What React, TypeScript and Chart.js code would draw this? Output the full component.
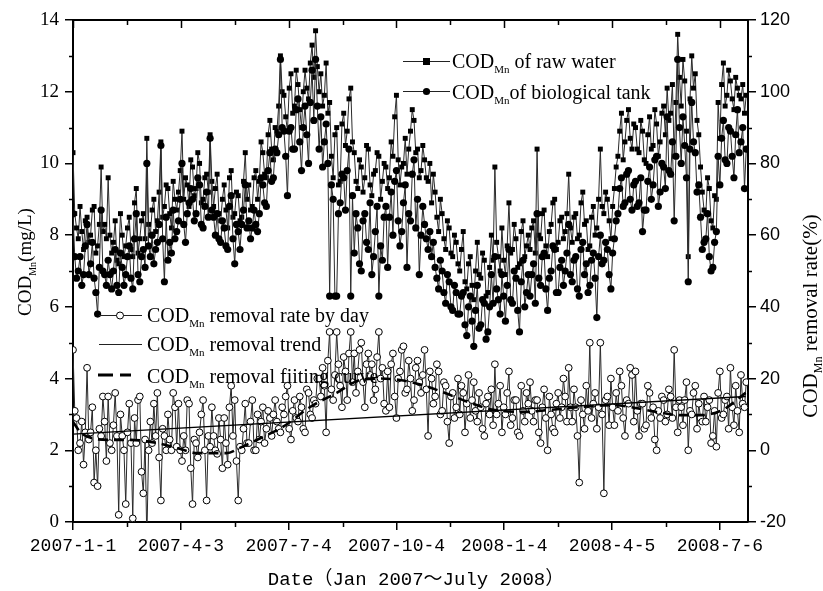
import React, { useEffect, useRef } from "react";
import { Chart, registerables } from "chart.js";

Chart.register(...registerables);

// sampling interval of the record, in days (x = day since 2007-1-1)
const DAY_STEP = 1.5;

const RAW_WATER = [
  10.3, 8.6, 8.2, 7.9, 8.8, 8.1, 7.6, 8.4, 8.5, 7.8, 8.0, 8.7, 8.8, 7.5, 7.7, 8.3, 9.9, 8.1, 8.3, 7.9,
  9.6, 8.0, 7.5, 7.8, 8.4, 7.3, 7.2, 8.6, 8.0, 7.4, 7.7, 8.2, 8.5, 7.6, 7.4, 8.9, 9.3, 7.5, 7.9, 8.4,
  8.6, 7.9, 10.7, 8.3, 8.0, 8.7, 9.0, 8.1, 8.4, 9.2, 10.6, 8.5, 8.8, 9.4, 9.3, 8.6, 8.2, 9.5, 9.0, 8.7,
  9.2, 9.8, 10.9, 9.0, 9.6, 9.4, 8.8, 10.1, 9.9, 9.1, 9.3, 10.3, 10.0, 8.9, 9.0, 9.6, 9.7, 9.2, 10.8, 9.5,
  8.8, 9.3, 9.7, 8.6, 8.4, 9.0, 9.4, 8.7, 8.2, 9.6, 9.8, 8.5, 8.6, 9.2, 9.1, 8.4, 8.5, 9.5, 10.3, 9.0,
  9.4, 8.7, 8.8, 9.6, 9.8, 9.0, 9.5, 10.6, 10.3, 9.7, 9.6, 10.8, 11.2, 10.4, 10.1, 11.0, 10.9, 11.6, 13.0, 12.0,
  11.9, 11.3, 10.9, 12.1, 12.5, 11.4, 11.6, 12.6, 12.2, 11.5, 11.0, 12.0, 12.6, 12.1, 11.8, 12.8, 13.3, 12.4, 13.7, 12.7,
  12.0, 12.5, 11.6, 11.9, 12.8, 11.4, 11.7, 10.2, 9.6, 10.8, 11.0, 9.4, 9.5, 11.1, 11.4, 10.5, 10.9, 11.8, 12.1, 10.6,
  10.3, 9.5, 9.3, 10.1, 9.9, 9.2, 9.6, 10.5, 10.4, 9.4, 9.1, 9.7, 9.8, 10.3, 10.2, 9.0, 9.5, 10.0, 9.9, 9.3,
  9.6, 10.6, 10.2, 11.3, 11.9, 10.1, 9.4, 9.9, 10.0, 10.7, 9.7, 10.4, 10.9, 11.5, 11.2, 10.3, 10.4, 9.6, 9.8, 10.5,
  10.1, 9.6, 9.5, 10.0, 8.9, 9.7, 9.2, 8.5, 8.1, 9.0, 8.6, 7.9, 7.6, 8.4, 8.2, 7.5, 7.4, 8.0, 7.8, 7.2,
  7.0, 7.6, 8.1, 6.7, 6.5, 7.2, 7.4, 6.6, 6.2, 7.0, 7.8, 6.9, 6.8, 7.5, 7.3, 6.3, 6.4, 7.1, 8.0, 7.3,
  9.9, 7.8, 7.4, 7.0, 8.2, 7.3, 6.9, 7.7, 8.9, 7.5, 7.6, 8.3, 7.9, 7.1, 7.2, 8.1, 8.4, 7.4, 7.7, 8.0,
  7.6, 8.2, 8.4, 7.5, 10.4, 8.0, 7.9, 8.6, 8.7, 7.7, 7.4, 8.1, 8.3, 8.9, 9.0, 7.6, 7.8, 8.4, 8.5, 7.9,
  8.1, 8.6, 9.7, 8.2, 7.8, 8.5, 8.6, 7.9, 8.0, 8.9, 9.2, 8.3, 8.4, 7.6, 7.7, 8.5, 8.8, 8.0, 8.2, 9.0,
  10.4, 8.8, 8.6, 9.2, 9.0, 8.4, 7.9, 8.8, 9.3, 9.9, 10.2, 10.9, 11.4, 10.1, 10.6, 11.2, 11.5, 10.7, 10.4, 11.1,
  11.0, 10.4, 10.3, 11.2, 10.9, 10.1, 10.0, 10.8, 11.3, 10.4, 10.5, 11.5, 11.1, 10.2, 10.6, 11.4, 11.6, 10.8, 12.1, 11.2,
  11.4, 12.2, 10.2, 11.7, 13.6, 12.4, 11.6, 12.9, 12.3, 10.9, 7.4, 11.8, 13.0, 12.1, 12.5, 11.2, 10.8, 9.9, 9.2, 8.7,
  8.6, 9.6, 9.3, 8.4, 8.2, 9.1, 9.0, 11.7, 10.7, 12.2, 12.8, 11.6, 11.9, 12.6, 12.3, 11.8, 11.5, 12.4, 12.1, 11.9,
  11.8, 12.2, 11.4, 11.9,
];

const BIO_TANK = [
  8.6, 7.4, 6.8, 7.0, 7.4, 6.6, 6.9, 7.7, 8.3, 6.9, 7.2, 7.8, 6.8, 6.4, 5.8, 7.1, 8.7, 7.0, 6.9, 6.6,
  7.3, 6.9, 6.5, 7.0, 7.6, 6.6, 6.4, 7.5, 7.1, 6.6, 6.9, 7.4, 7.7, 6.8, 6.5, 7.9, 8.6, 6.9, 6.7, 7.4,
  7.6, 7.1, 10.0, 7.7, 7.4, 8.0, 7.2, 7.6, 7.8, 8.3, 10.5, 7.9, 6.7, 8.5, 7.3, 7.8, 7.5, 8.7, 7.9, 8.1,
  8.4, 9.0, 10.0, 8.3, 7.8, 8.6, 8.9, 9.3, 9.0, 8.4, 8.6, 9.6, 9.4, 8.3, 8.2, 8.8, 9.2, 8.5, 10.7, 8.7,
  8.5, 8.0, 8.6, 7.9, 7.8, 8.4, 8.2, 7.7, 7.6, 8.8, 9.1, 7.9, 7.2, 8.3, 8.1, 7.6, 8.3, 8.7, 9.4, 8.2,
  8.4, 7.9, 8.2, 8.7, 8.3, 8.1, 8.6, 9.6, 9.4, 8.9, 8.8, 9.8, 10.3, 9.5, 9.6, 10.4, 10.3, 10.8, 12.9, 11.0,
  10.9, 10.2, 9.1, 10.9, 11.0, 10.4, 10.4, 11.5, 11.8, 10.6, 9.8, 11.0, 11.6, 10.8, 10.0, 11.7, 12.6, 11.2, 12.9, 11.6,
  10.4, 11.3, 9.9, 10.6, 11.1, 10.0, 6.3, 9.4, 9.0, 6.3, 6.3, 8.6, 8.9, 9.7, 9.6, 8.7, 9.8, 10.4, 6.3, 9.1,
  7.5, 8.6, 8.2, 7.2, 7.0, 8.4, 8.6, 7.8, 7.6, 8.9, 6.9, 7.4, 8.1, 8.8, 6.3, 7.7, 7.3, 8.5, 8.8, 7.1,
  8.5, 9.2, 8.0, 9.5, 9.8, 8.4, 7.7, 8.1, 8.9, 9.4, 7.1, 8.6, 8.4, 9.7, 10.1, 8.2, 9.0, 6.9, 8.0, 8.8,
  8.3, 7.9, 7.6, 8.1, 7.4, 7.8, 7.1, 6.8, 6.5, 7.3, 7.0, 6.4, 6.1, 6.9, 6.7, 6.0, 5.9, 6.6, 6.4, 5.8,
  5.8, 6.3, 6.4, 5.5, 5.2, 6.0, 6.3, 5.6, 4.9, 5.9, 6.6, 5.4, 5.5, 6.2, 6.1, 5.1, 5.3, 6.0, 6.9, 6.1,
  7.4, 6.5, 6.2, 5.8, 6.9, 6.3, 5.6, 6.6, 7.6, 6.2, 6.1, 7.0, 6.8, 5.9, 5.3, 6.7, 7.3, 6.0, 6.4, 6.9,
  6.3, 6.9, 7.2, 6.1, 8.6, 6.8, 6.6, 7.4, 7.5, 6.5, 5.9, 6.8, 7.0, 7.7, 7.6, 6.4, 6.4, 7.1, 7.3, 6.6,
  7.0, 7.5, 8.3, 6.9, 6.7, 7.3, 7.4, 6.5, 6.3, 7.6, 7.8, 6.9, 7.2, 6.4, 6.6, 7.3, 7.5, 6.8, 5.7, 7.4,
  8.0, 7.2, 7.3, 7.8, 7.6, 6.9, 6.5, 7.5, 7.9, 8.4, 8.6, 9.3, 9.6, 8.8, 8.9, 9.7, 9.8, 9.0, 8.7, 9.4,
  9.5, 8.8, 8.9, 9.6, 8.1, 8.7, 8.7, 9.5, 9.9, 9.0, 9.4, 10.1, 10.2, 8.8, 9.2, 10.0, 9.9, 9.3, 11.3, 9.8,
  9.7, 10.6, 8.4, 10.2, 12.9, 11.0, 10.0, 11.3, 10.5, 9.6, 6.7, 10.4, 11.7, 10.6, 10.3, 9.2, 9.4, 8.5, 7.6, 7.8,
  7.9, 8.6, 7.4, 7.0, 7.1, 7.8, 8.1, 10.2, 9.4, 10.7, 11.2, 10.1, 10.0, 11.0, 10.9, 10.2, 9.6, 10.8, 11.5, 10.3,
  10.6, 11.0, 9.3, 10.4,
];

const REMOVAL_RATE = [
  28, 11, 9, 0, 2, 8, -4, 5, 23, 3, 5, 12, -9, 0, -10, 6, 4, 15, 8, -3,
  15, 2, 0, 7, 16, 4, -18, 10, 4, 0, -15, 5, 13, 2, -19, 9, 2, 14, 15, -6,
  -12, 3, -25, 0, 8, 2, 13, 4, 16, -2, -14, 6, 4, 0, 10, 3, 0, 16, 12, 1,
  13, 0, -3, 4, 0, 14, 13, -5, -15, 3, 2, -2, 5, 10, 14, 0, -14, 4, 1, 12,
  4, 0, -1, 9, 3, -5, 9, 2, -4, 12, 18, 4, 14, -3, -14, 1, 0, 6, 13, 2,
  2, 8, 14, 0, 0, 10, 3, 8, 12, 2, 6, 11, 9, 4, 10, 14, 8, 6, 5, 12,
  10, 15, 18, 6, 3, 11, 14, 9, 8, 15, 12, 6, 5, 17, 16, 10, 9, 14, 13, 20,
  20, 15, 23, 18, 5, 25, 33, 17, 14, 21, 33, 24, 18, 12, 26, 22, 14, 27, 33, 19,
  27, 16, 22, 28, 30, 19, 12, 24, 27, 21, 24, 14, 17, 26, 33, 20, 23, 13, 11, 22,
  12, 24, 27, 15, 9, 20, 22, 28, 29, 16, 17, 25, 20, 11, 14, 23, 25, 19, 16, 21,
  28, 17, 4, 22, 20, 13, 15, 24, 22, 10, 11, 19, 18, 8, 2, 15, 16, 9, 12, 20,
  10, 18, 16, 5, 13, 21, 9, 14, 19, 11, 8, 16, 12, 6, 4, 13, 15, 10, 17, 7,
  24, 10, 13, 18, 5, 12, 10, 16, 22, 7, 9, 14, 14, 5, 4, 18, 11, 8, 16, 13,
  19, 11, 8, 14, 14, 5, 2, 12, 17, 9, 0, 15, 10, 6, 5, 13, 16, 9, 12, 20,
  15, 8, 23, 12, 8, 17, 12, 4, -9, 14, 10, 6, 18, 11, 30, 9, 13, 16, 6, 12,
  30, 10, -12, 14, 15, 7, 20, 12, 7, 16, 11, 22, 18, 9, 4, 14, 13, 23, 21, 8,
  22, 11, 4, 13, 13, 6, 7, 18, 16, 9, 12, 3, 0, 11, 9, 15, 14, 8, 10, 17,
  15, 9, 28, 12, 5, 14, 12, 7, 14, 19, 0, 11, 10, 16, 18, 6, 13, 9, 8, 15,
  8, 12, 14, 2, 4, 11, 1, 16, 22, 9, 10, 14, 15, 6, 23, 12, 7, 18, 11, 5,
  21, 13, 12, 19,
];

const TREND_DAYS = [0, 574];
const TREND_RATE = [4.5, 15.0];

const FIT_DAYS = [0, 8, 32, 49, 72, 91, 106, 131, 142, 162, 179, 202, 225, 245, 262, 279, 298, 315, 337, 360, 387, 405, 424, 461, 480, 498, 518, 535, 554, 574];
const FIT_RATE = [7.9, 4.5, 2.9, 2.9, 2.0, 0.4, -0.8, -0.8, 0.6, 3.7, 6.5, 12.0, 16.0, 19.6, 20.0, 19.6, 18.2, 16.3, 13.5, 11.2, 10.7, 11.2, 11.8, 12.6, 11.8, 10.7, 9.8, 9.8, 11.2, 16.0];

const X_TICK_DAYS = [0, 92, 184, 276, 368, 460, 552];
const X_TICK_LABELS = ["2007-1-1", "2007-4-3", "2007-7-4", "2007-10-4", "2008-1-4", "2008-4-5", "2008-7-6"];
const X_MINOR_DAYS = [46, 138, 230, 322, 414, 506];
const LEFT_TICKS = [0, 2, 4, 6, 8, 10, 12, 14];
const LEFT_MINOR = [1, 3, 5, 7, 9, 11, 13];
const RIGHT_TICKS = [-20, 0, 20, 40, 60, 80, 100, 120];
const RIGHT_MINOR = [-10, 10, 30, 50, 70, 90, 110];

const SERIF = '"Liberation Serif", "Times New Roman", serif';

function richWidth(ctx: CanvasRenderingContext2D, pre: string, sub: string, post: string, size: number) {
  ctx.font = `${size}px ${SERIF}`;
  let w = ctx.measureText(pre).width + ctx.measureText(post).width;
  ctx.font = `${Math.round(size * 0.55)}px ${SERIF}`;
  w += ctx.measureText(sub).width;
  return w;
}

function drawRich(ctx: CanvasRenderingContext2D, x: number, y: number, pre: string, sub: string, post: string, size: number) {
  ctx.textBaseline = "alphabetic";
  ctx.textAlign = "left";
  ctx.fillStyle = "#000";
  ctx.font = `${size}px ${SERIF}`;
  ctx.fillText(pre, x, y);
  let w = ctx.measureText(pre).width;
  ctx.font = `${Math.round(size * 0.55)}px ${SERIF}`;
  ctx.fillText(sub, x + w, y + size * 0.25);
  w += ctx.measureText(sub).width;
  ctx.font = `${size}px ${SERIF}`;
  ctx.fillText(post, x + w, y);
}

const decorPlugin = {
  id: "decor",
  afterDraw(chart: any) {
    const ctx: CanvasRenderingContext2D = chart.ctx;
    const { left, right, top, bottom } = chart.chartArea;
    const xs = chart.scales.x;
    const yl = chart.scales.y;
    const yr = chart.scales.y1;
    const r = (v: number) => Math.round(v) + 0.5;
    ctx.save();
    ctx.strokeStyle = "#000";
    ctx.lineWidth = 2;
    ctx.beginPath();
    ctx.moveTo(left - 1, top);
    ctx.lineTo(right + 1, top);
    ctx.stroke();
    ctx.lineWidth = 1.5;
    ctx.beginPath();
    X_TICK_DAYS.forEach((d) => {
      const px = r(xs.getPixelForValue(d));
      ctx.moveTo(px, top);
      ctx.lineTo(px, top + 8);
    });
    X_MINOR_DAYS.forEach((d) => {
      const px = r(xs.getPixelForValue(d));
      ctx.moveTo(px, top);
      ctx.lineTo(px, top + 5);
      ctx.moveTo(px, bottom);
      ctx.lineTo(px, bottom + 5);
    });
    LEFT_MINOR.forEach((v) => {
      const py = r(yl.getPixelForValue(v));
      ctx.moveTo(left, py);
      ctx.lineTo(left - 4, py);
    });
    RIGHT_MINOR.forEach((v) => {
      const py = r(yr.getPixelForValue(v));
      ctx.moveTo(right, py);
      ctx.lineTo(right + 4, py);
    });
    ctx.stroke();

    ctx.save();
    ctx.translate(24, 262);
    ctx.rotate(-Math.PI / 2);
    const lw = richWidth(ctx, "COD", "Mn", "(mg/L)", 19);
    drawRich(ctx, -lw / 2, 7, "COD", "Mn", "(mg/L)", 19);
    ctx.restore();

    ctx.save();
    ctx.translate(810, 316);
    ctx.rotate(-Math.PI / 2);
    const rw = richWidth(ctx, "COD", "Mn", " removal rate(%)", 21);
    drawRich(ctx, -rw / 2, 7, "COD", "Mn", " removal rate(%)", 21);
    ctx.restore();

    ctx.fillStyle = "#000";
    ctx.font = '19px "Liberation Mono", "Noto Sans CJK SC", monospace';
    ctx.textAlign = "center";
    ctx.textBaseline = "middle";
    ctx.fillText("Date（Jan 2007～July 2008）", 416, 580);

    // legend (top right)
    ctx.lineWidth = 1;
    ctx.strokeStyle = "#222";
    ctx.beginPath();
    ctx.moveTo(403, 61.5);
    ctx.lineTo(450, 61.5);
    ctx.moveTo(403, 91.5);
    ctx.lineTo(450, 91.5);
    ctx.stroke();
    ctx.fillStyle = "#000";
    ctx.fillRect(423, 58, 7, 7);
    ctx.beginPath();
    ctx.arc(426.5, 91.5, 3.6, 0, Math.PI * 2);
    ctx.fill();
    drawRich(ctx, 452, 68, "COD", "Mn", " of raw water", 20);
    drawRich(ctx, 452, 99, "COD", "Mn", "of biological tank", 20);

    // legend (bottom left)
    ctx.strokeStyle = "#222";
    ctx.lineWidth = 1;
    ctx.beginPath();
    ctx.moveTo(99, 315.5);
    ctx.lineTo(142, 315.5);
    ctx.moveTo(99, 344.5);
    ctx.lineTo(142, 344.5);
    ctx.stroke();
    ctx.fillStyle = "#fff";
    ctx.strokeStyle = "#000";
    ctx.beginPath();
    ctx.arc(120, 315.5, 3.5, 0, Math.PI * 2);
    ctx.fill();
    ctx.stroke();
    ctx.lineWidth = 3;
    ctx.setLineDash([15, 7]);
    ctx.beginPath();
    ctx.moveTo(98, 375);
    ctx.lineTo(131, 375);
    ctx.stroke();
    ctx.setLineDash([]);
    drawRich(ctx, 147, 322, "COD", "Mn", " removal rate by day", 20);
    drawRich(ctx, 147, 351, "COD", "Mn", " removal trend", 20);
    drawRich(ctx, 147, 383, "COD", "Mn", " removal fiiting curve", 20);
    ctx.restore();
  },
};

export default function App() {
  const ref = useRef<HTMLCanvasElement>(null);
  useEffect(() => {
    const canvas = ref.current;
    if (!canvas) return;
    const pts = (arr: number[]) => arr.map((y, i) => ({ x: i * DAY_STEP, y }));
    const pair = (xs: number[], ys: number[]) => xs.map((x, i) => ({ x, y: ys[i] }));
    const chart = new Chart(canvas, {
      type: "line",
      data: {
        datasets: [
          {
            label: "COD Mn of raw water",
            data: pts(RAW_WATER),
            yAxisID: "y",
            borderColor: "#2a2a2a",
            borderWidth: 1,
            pointStyle: "rect",
            pointRadius: 3.5,
            pointBackgroundColor: "#000",
            pointBorderColor: "#000",
            pointBorderWidth: 0,
            order: 4,
          },
          {
            label: "COD Mn of biological tank",
            data: pts(BIO_TANK),
            yAxisID: "y",
            borderColor: "#2a2a2a",
            borderWidth: 1,
            pointStyle: "circle",
            pointRadius: 3.6,
            pointBackgroundColor: "#000",
            pointBorderColor: "#000",
            pointBorderWidth: 0,
            order: 3,
          },
          {
            label: "COD Mn removal rate by day",
            data: pts(REMOVAL_RATE),
            yAxisID: "y1",
            borderColor: "#2a2a2a",
            borderWidth: 1,
            pointStyle: "circle",
            pointRadius: 3.4,
            pointBackgroundColor: "#fff",
            pointBorderColor: "#000",
            pointBorderWidth: 1,
            order: 2,
          },
          {
            label: "COD Mn removal trend",
            data: pair(TREND_DAYS, TREND_RATE),
            yAxisID: "y1",
            borderColor: "#000",
            borderWidth: 1.3,
            pointRadius: 0,
            order: 1,
          },
          {
            label: "COD Mn removal fitting curve",
            data: pair(FIT_DAYS, FIT_RATE),
            yAxisID: "y1",
            borderColor: "#000",
            borderWidth: 2.6,
            borderDash: [10, 6],
            pointRadius: 0,
            cubicInterpolationMode: "monotone",
            order: 0,
          },
        ],
      },
      options: {
        responsive: false,
        animation: false,
        layout: { padding: { top: 20, left: 0, right: 0, bottom: 0 } },
        plugins: { legend: { display: false }, tooltip: { enabled: false } },
        elements: { line: { tension: 0 } },
        scales: {
          x: {
            type: "linear",
            position: "bottom",
            min: 0,
            max: 576,
            afterBuildTicks: (s: any) => {
              s.ticks = X_TICK_DAYS.map((v) => ({ value: v }));
            },
            afterFit: (s: any) => {
              s.height = 69;
            },
            ticks: {
              autoSkip: false,
              maxRotation: 0,
              padding: 5,
              color: "#000",
              font: { family: '"Liberation Mono", "Noto Sans CJK SC", monospace', size: 18 },
              callback: (v: any) => {
                const i = X_TICK_DAYS.indexOf(Number(v));
                return i >= 0 ? X_TICK_LABELS[i] : "";
              },
            },
            grid: { display: true, drawOnChartArea: false, drawTicks: true, tickLength: 8, color: "#000", lineWidth: 1.5 },
            border: { display: true, color: "#000", width: 2 },
          },
          y: {
            type: "linear",
            position: "left",
            min: 0,
            max: 14,
            afterBuildTicks: (s: any) => {
              s.ticks = LEFT_TICKS.map((v) => ({ value: v }));
            },
            afterFit: (s: any) => {
              s.width = 73;
            },
            ticks: {
              padding: 6,
              color: "#000",
              font: { family: SERIF, size: 19 },
            },
            grid: { display: true, drawOnChartArea: false, drawTicks: true, tickLength: 8, color: "#000", lineWidth: 1.5 },
            border: { display: true, color: "#000", width: 2 },
          },
          y1: {
            type: "linear",
            position: "right",
            min: -20,
            max: 120,
            afterBuildTicks: (s: any) => {
              s.ticks = RIGHT_TICKS.map((v) => ({ value: v }));
            },
            afterFit: (s: any) => {
              s.width = 75;
            },
            ticks: {
              padding: 4,
              color: "#000",
              font: { family: '"Liberation Sans", Arial, sans-serif', size: 18 },
            },
            grid: { display: true, drawOnChartArea: false, drawTicks: true, tickLength: 8, color: "#000", lineWidth: 1.5 },
            border: { display: true, color: "#000", width: 2 },
          },
        },
      },
      plugins: [decorPlugin],
    } as any);
    return () => chart.destroy();
  }, []);
  return (
    <div style={{ position: "absolute", left: 0, top: 0, width: 823, height: 591, background: "#fff" }}>
      <canvas ref={ref} width={823} height={591} style={{ display: "block", width: 823, height: 591 }} />
    </div>
  );
}
